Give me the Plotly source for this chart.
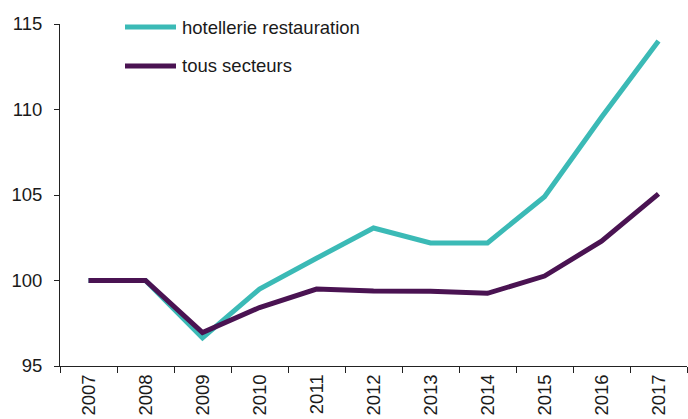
import plotly.graph_objects as go

years = ["2007", "2008", "2009", "2010", "2011", "2012", "2013", "2014", "2015", "2016", "2017"]
hotellerie = [100, 100, 96.65, 99.5, 101.3, 103.07, 102.2, 102.2, 104.9, 109.55, 114.0]
tous = [100, 100, 96.95, 98.42, 99.5, 99.38, 99.37, 99.25, 100.26, 102.3, 105.07]
series_names = ["hotellerie restauration", "tous secteurs"]
colors = ["#3bbab6", "#4a1352"]
y_ticks = [95, 100, 105, 110, 115]

FONT = "Liberation Sans, Arial"

fig = go.Figure()
for name, vals, col in zip(series_names, [hotellerie, tous], colors):
    fig.add_trace(go.Scatter(x=years, y=vals, mode="lines", name=name,
                             line=dict(color=col, width=5), showlegend=False))

# manual legend
legend_y = [27, 66]
for name, col, yy in zip(series_names, colors, legend_y):
    fig.add_shape(type="line", xref="paper", yref="paper",
                  x0=(125 - 60) / 627, x1=(176 - 60) / 627,
                  y0=1 - (yy - 24) / 342, y1=1 - (yy - 24) / 342,
                  line=dict(color=col, width=5))
    fig.add_annotation(text=name, xref="paper", yref="paper",
                       x=(180 - 60) / 627, y=1 - (yy - 24) / 342,
                       xanchor="left", yanchor="middle", showarrow=False,
                       font=dict(size=18.5, color="#1a1a1a", family=FONT))

fig.update_layout(
    width=688, height=419,
    margin=dict(l=60, r=1, t=24, b=53),
    paper_bgcolor="white", plot_bgcolor="white",
    font=dict(family=FONT, size=18.5, color="#1a1a1a"),
)
fig.update_yaxes(range=[95, 115], tickvals=y_ticks, showgrid=False, zeroline=False,
                 showline=True, linecolor="#222", linewidth=1,
                 ticks="outside", ticklen=5, tickcolor="#222", ticklabelstandoff=8)
fig.update_xaxes(type="category", showgrid=False, showline=True, linecolor="#222", linewidth=1,
                 ticks="outside", ticklen=6, tickcolor="#222", tickson="boundaries",
                 tickangle=-90, range=[-0.5, 10.5])

fig.write_html("out.html", config={"displayModeBar": False},
               post_script="document.body.style.margin='0';")
